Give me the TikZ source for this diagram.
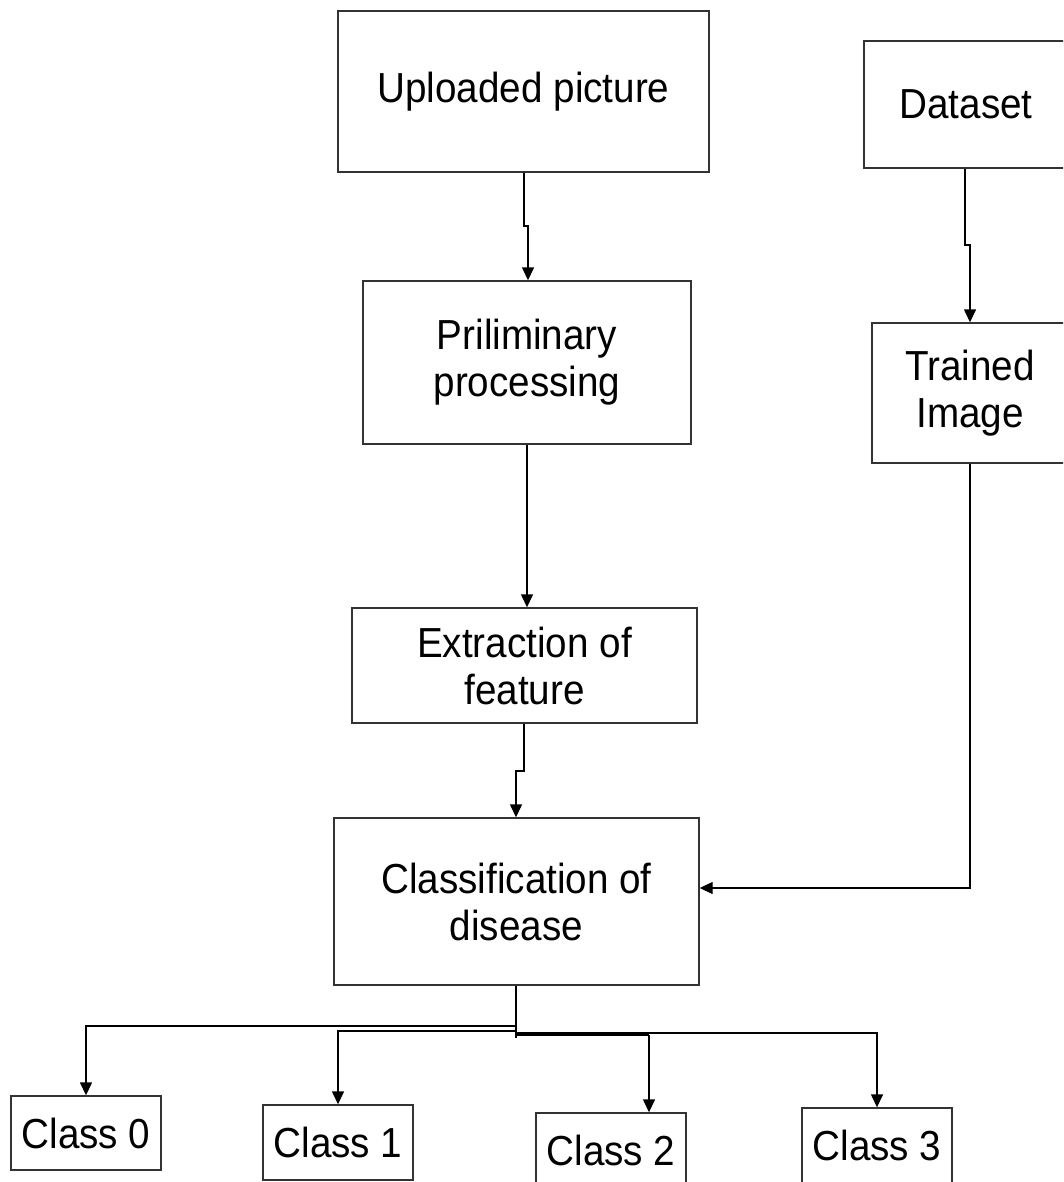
\documentclass[tikz,border=0pt]{standalone}
\usepackage{fontspec}
\setmainfont{Liberation Sans}[FakeStretch=0.92]
\usetikzlibrary{arrows.meta}
\begin{document}
\begin{tikzpicture}[x=1pt,y=-1pt,
  box/.style={draw=black!80,line width=1.4pt,fill=white,inner sep=0pt,align=center,
    font=\fontsize{42}{47}\selectfont},
  conn/.style={draw=black,line width=1.4pt},
  arr/.style={conn,-{Triangle[length=13pt,width=12pt]}}]
\useasboundingbox (0,0) rectangle (1063,1182);
\clip (0,0) rectangle (1063,1182);
\fill[white] (0,0) rectangle (1063,1182);
% boxes
\node[box,minimum width=371pt,minimum height=161pt] (up) at (523.5,91.5) {Uploaded picture};
\node[box,minimum width=204pt,minimum height=127pt] (data) at (966,104.5) {Dataset};
\node[box,minimum width=328pt,minimum height=163pt] (pre) at (527,362.5) {Priliminary\\processing};
\node[box,minimum width=196pt,minimum height=140pt] (train) at (970,393) {Trained\\Image};
\node[box,minimum width=345pt,minimum height=115pt] (ext) at (524.5,665.5) {Extraction of\\feature};
\node[box,minimum width=365pt,minimum height=167pt] (cls) at (516.5,901.5) {Classification of\\disease};
\node[box,minimum width=150pt,minimum height=74pt] (c0) at (86,1133) {Class 0};
\node[box,minimum width=150pt,minimum height=75pt] (c1) at (338,1142.5) {Class 1};
\node[box,minimum width=150pt,minimum height=75pt] (c2) at (611,1150.5) {Class 2};
\node[box,minimum width=150pt,minimum height=75pt] (c3) at (877,1145.5) {Class 3};
% connectors
\coordinate (j1) at (524,226);
\coordinate (j2) at (965,245);
\coordinate (j3) at (524,771);
\draw[arr] (up.south -| j1) -- (j1) -- ++(4,0) -- (pre.north -| 528,0);
\draw[arr] (data.south -| j2) -- (j2) -- ++(5,0) -- (train.north);
\draw[arr] (pre.south -| 527,0) -- (ext.north -| 527,0);
\draw[arr] (ext.south -| j3) -- (j3) -- ++(-8,0) -- (cls.north -| 516,0);
\draw[arr] (train.south) |- (cls.east |- 0,888);
% branches
\coordinate (b0) at (516,1026);
\draw[conn] (cls.south -| b0) -- ++(0,52);
\draw[arr] (b0) -| (c0.north);
\draw[arr] (516,1031) -| (c1.north);
\draw[arr] (516,1033) -| (c3.north);
\draw[conn,line width=3pt] (516,1034.5) -- (649,1034.5);
\draw[arr] (649,1035) -- (c2.north -| 649,0);
\end{tikzpicture}
\end{document}
